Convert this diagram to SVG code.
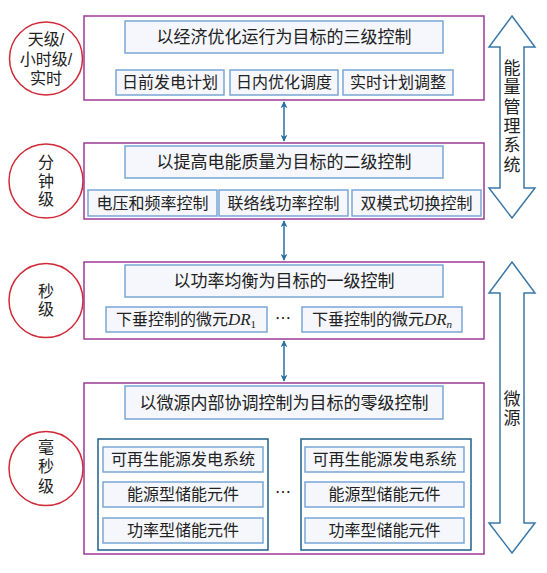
<svg xmlns="http://www.w3.org/2000/svg" width="547" height="573" viewBox="0 0 547 573">
<style>
.lvl{fill:#fff;stroke:#9c3a96;stroke-width:1.5}
.tb{fill:#f5f7fc;stroke:#7aa6d6;stroke-width:1.5}
.ib{fill:#fff;stroke:#1f5f8c;stroke-width:1.5}
.cir{fill:#fff;stroke:#d02a38;stroke-width:1.5}
.big{fill:#fff;stroke:#3a78a8;stroke-width:1.5}
.con{stroke:#2a6ea0;stroke-width:1.5;fill:none;marker-start:url(#ah);marker-end:url(#ah)}
text{font-family:"Noto Sans CJK SC","Noto Sans",sans-serif;fill:#222;text-anchor:middle}
.t17{font-size:17px}
.t16{font-size:16px}
.ls{font-family:"Liberation Sans","Noto Sans CJK SC",sans-serif}
.vt{writing-mode:vertical-rl;text-orientation:upright}
.it{font-family:"Liberation Serif",serif;font-style:italic}
.sub{font-family:"Liberation Serif",serif;font-size:11px}
</style>
<defs>
<marker id="ah" viewBox="0 0 10 10" refX="9" refY="5" markerWidth="7" markerHeight="7" orient="auto-start-reverse" markerUnits="userSpaceOnUse">
<path d="M0,0 L10,5 L0,10 L3,5 z" fill="#2a6ea0"/>
</marker>
</defs>
<rect width="547" height="573" fill="#fff"/>

<g id="connectors">
<line class="con" x1="284" y1="102" x2="284" y2="141"/>
<line class="con" x1="284" y1="221" x2="284" y2="260"/>
<line class="con" x1="284" y1="341" x2="284" y2="381"/>
</g>

<g id="ems-arrow">
<path class="big" d="M512,16 L535,47 L524,47 L524,188 L535,188 L512,218 L489,188 L500,188 L500,47 L489,47 Z"/>
<text class="t17 vt" x="512" y="117" letter-spacing="2.4">能量管理系统</text>
</g>
<g id="micro-arrow">
<path class="big" d="M512,262 L535,293 L524,293 L524,523 L535,523 L512,553 L489,523 L500,523 L500,293 L489,293 Z"/>
<text class="t17 vt" x="512" y="409" letter-spacing="1.5">微源</text>
</g>

<g id="c1"><circle class="cir" cx="46" cy="58.5" r="36.5"/>
<text class="t16 ls"><tspan x="46" y="45">天级/</tspan><tspan x="46" y="65">小时级/</tspan><tspan x="46" y="84">实时</tspan></text></g>
<g id="c2"><circle class="cir" cx="46" cy="181" r="37"/>
<text class="t16 vt" x="46" y="182" letter-spacing="2.5">分钟级</text></g>
<g id="c3"><circle class="cir" cx="46" cy="300.5" r="37"/>
<text class="t16 vt" x="46" y="301" letter-spacing="2">秒级</text></g>
<g id="c4"><circle class="cir" cx="46" cy="468.5" r="37"/>
<text class="t16 vt" x="46" y="468" letter-spacing="3.5">毫秒级</text></g>

<g id="L3">
<rect class="lvl" x="84" y="16" width="400" height="84"/>
<rect class="tb" x="125" y="21" width="318" height="32"/>
<text class="t17" x="284" y="43">以经济优化运行为目标的三级控制</text>
<rect class="tb" x="116" y="70" width="108" height="25"/>
<text class="t16" x="170" y="88">日前发电计划</text>
<rect class="tb" x="230" y="70" width="108" height="25"/>
<text class="t16" x="284" y="88">日内优化调度</text>
<rect class="tb" x="343" y="70" width="110" height="25"/>
<text class="t16" x="398" y="88">实时计划调整</text>
</g>

<g id="L2">
<rect class="lvl" x="84" y="143" width="400" height="76"/>
<rect class="tb" x="125" y="146" width="318" height="32"/>
<text class="t17" x="284" y="168">以提高电能质量为目标的二级控制</text>
<rect class="tb" x="88" y="190" width="129" height="26"/>
<text class="t16" x="152.5" y="209">电压和频率控制</text>
<rect class="tb" x="219" y="190" width="129" height="26"/>
<text class="t16" x="283.5" y="209">联络线功率控制</text>
<rect class="tb" x="352" y="190" width="129" height="26"/>
<text class="t16" x="416.5" y="209">双模式切换控制</text>
</g>

<g id="L1">
<rect class="lvl" x="84" y="262" width="400" height="77"/>
<rect class="tb" x="125" y="265" width="318" height="32"/>
<text class="t17" x="284" y="287">以功率均衡为目标的一级控制</text>
<rect class="tb" x="106" y="307" width="161" height="25"/>
<text class="t16" x="186" y="325">下垂控制的微元<tspan class="it" font-size="17">DR</tspan><tspan class="sub" dy="3">1</tspan></text>
<text class="t16" x="283" y="324">…</text>
<rect class="tb" x="302" y="307" width="160" height="25"/>
<text class="t16" x="382" y="325">下垂控制的微元<tspan class="it" font-size="17">DR</tspan><tspan class="sub it" dy="3">n</tspan></text>
</g>

<g id="L0">
<rect class="lvl" x="84" y="383" width="400" height="171"/>
<rect class="tb" x="125" y="386" width="318" height="33"/>
<text class="t17" x="284" y="409">以微源内部协调控制为目标的零级控制</text>
<rect class="ib" x="98" y="439" width="170" height="111"/>
<rect class="tb" x="103" y="447" width="160" height="25"/>
<text class="t16" x="183" y="465">可再生能源发电系统</text>
<rect class="tb" x="103" y="482" width="160" height="25"/>
<text class="t16" x="183" y="500">能源型储能元件</text>
<rect class="tb" x="103" y="518" width="160" height="25"/>
<text class="t16" x="183" y="536">功率型储能元件</text>
<text class="t16" x="283" y="498">…</text>
<rect class="ib" x="301" y="439" width="170" height="111"/>
<rect class="tb" x="305" y="447" width="159" height="25"/>
<text class="t16" x="384.5" y="465">可再生能源发电系统</text>
<rect class="tb" x="305" y="482" width="159" height="25"/>
<text class="t16" x="384.5" y="500">能源型储能元件</text>
<rect class="tb" x="305" y="518" width="159" height="25"/>
<text class="t16" x="384.5" y="536">功率型储能元件</text>
</g>
</svg>
